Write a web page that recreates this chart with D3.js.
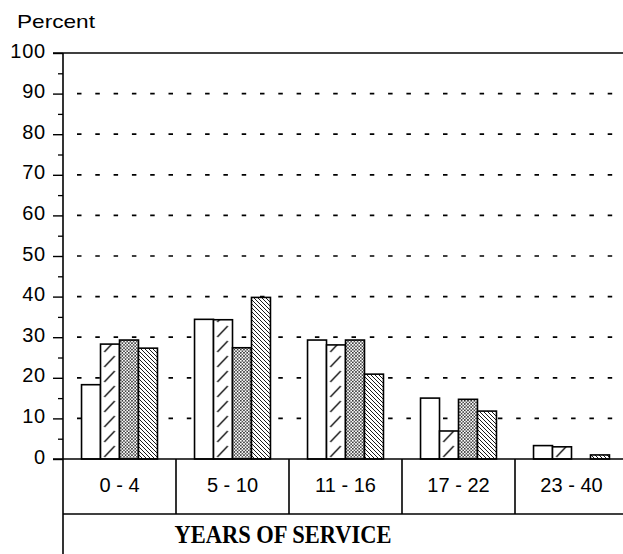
<!DOCTYPE html>
<html><head><meta charset="utf-8">
<script src="https://cdn.jsdelivr.net/npm/d3@7/dist/d3.min.js"></script>
<style>body{margin:0;background:#fff}svg{display:block}</style>
</head><body>
<svg id="c" width="623" height="554"></svg>
<script>
const categories = ["0 - 4", "5 - 10", "11 - 16", "17 - 22", "23 - 40"];
const seriesNames = ["s1", "s2", "s3", "s4"];
const s1 = [18.3, 34.4, 29.3, 15.0, 3.3];
const s2 = [28.3, 34.3, 28.1, 6.9, 3.0];
const s3 = [29.3, 27.4, 29.3, 14.7, 0];
const s4 = [27.3, 39.8, 20.9, 11.8, 1.0];
const seriesValues = [s1, s2, s3, s4];
const yMajorTicks = [0, 10, 20, 30, 40, 50, 60, 70, 80, 90, 100];
const yMinorTicks = [5, 15, 25, 35, 45, 55, 65, 75, 85, 95];
const yTitle = "Percent";
const xTitle = "YEARS OF SERVICE";

const svg = d3.select("#c");
const W = 623, H = 554;
const axisX = 63, y0 = 459, yTop = 53, tableBottom = 514;

const x = d3.scaleBand().domain(categories).range([axisX, axisX + 113 * 5]).paddingInner(0).paddingOuter(0);
const y = d3.scaleLinear().domain([0, 100]).range([y0, yTop]);
const bw = x.bandwidth();
const x1 = d3.scaleBand().domain(seriesNames).range([bw * 0.164, bw * 0.836]).padding(0);
const sw = x1.bandwidth();

// patterns
const defs = svg.append("defs");
// s2: sparse forward diagonal strokes (one pattern per category, aligned to the bar)
categories.forEach((c, i) => {
  const p2 = defs.append("pattern").attr("id", "p2_" + i).attr("patternUnits", "userSpaceOnUse")
    .attr("x", x(c) + x1("s2")).attr("y", y0).attr("width", sw).attr("height", 15);
  p2.append("rect").attr("width", sw).attr("height", 15).attr("fill", "#fff");
  p2.append("line").attr("x1", sw * 0.2).attr("y1", 13).attr("x2", sw * 0.75).attr("y2", 2)
    .attr("stroke", "#000").attr("stroke-width", 1.2);
});
// s3: dense dots
const p3 = defs.append("pattern").attr("id", "p3").attr("patternUnits", "userSpaceOnUse")
  .attr("width", 3.2).attr("height", 3.2);
p3.append("rect").attr("width", 3.2).attr("height", 3.2).attr("fill", "#fff");
p3.append("circle").attr("cx", 0.8).attr("cy", 0.8).attr("r", 0.85).attr("fill", "#222");
p3.append("circle").attr("cx", 2.4).attr("cy", 2.4).attr("r", 0.85).attr("fill", "#333");
// s4: dense backslash
const p4 = defs.append("pattern").attr("id", "p4").attr("patternUnits", "userSpaceOnUse")
  .attr("width", 4).attr("height", 4);
p4.append("rect").attr("width", 4).attr("height", 4).attr("fill", "#fff");
p4.append("path").attr("d", "M-1,-1 L5,5 M-1,3 L1,5 M3,-1 L5,1")
  .attr("stroke", "#000").attr("stroke-width", 0.9);
const fillFor = (j, i) => ["#fff", "url(#p2_" + i + ")", "url(#p3)", "url(#p4)"][j];

// gridlines
svg.append("g").selectAll("line").data(yMajorTicks.filter(d => d > 0 && d < 100)).join("line")
  .attr("x1", 77).attr("x2", W).attr("y1", d => y(d)).attr("y2", d => y(d))
  .attr("stroke", "#000").attr("stroke-width", 1.7).attr("stroke-dasharray", "4.5,13.8");

// top line
svg.append("line").attr("x1", axisX - 10).attr("x2", W).attr("y1", y(100)).attr("y2", y(100))
  .attr("stroke", "#000").attr("stroke-width", 1.4);

// bars
const gBars = svg.append("g");
categories.forEach((c, i) => {
  seriesNames.forEach((s, j) => {
    const v = seriesValues[j][i];
    if (v <= 0) return;
    gBars.append("rect")
      .attr("x", x(c) + x1(s)).attr("width", sw)
      .attr("y", y(v)).attr("height", y0 - y(v))
      .attr("fill", fillFor(j, i)).attr("stroke", "#000").attr("stroke-width", 1.6);
  });
});

// y axis
const yAxis = d3.axisLeft(y).tickValues(yMajorTicks).tickSize(10).tickPadding(7).tickFormat(d3.format("d"));
const gy = svg.append("g").attr("transform", `translate(${axisX},0)`).call(yAxis);
gy.select(".domain").remove();
gy.selectAll(".tick line").attr("stroke", "#000").attr("stroke-width", 1.4);
gy.selectAll(".tick text").attr("font-family", "'Liberation Sans', Arial, sans-serif")
  .attr("font-size", 20).attr("fill", "#000").attr("dy", "0.2em").attr("letter-spacing", "0.8px");
const yMinor = d3.axisLeft(y).tickValues(yMinorTicks).tickSize(5).tickFormat("");
const gym = svg.append("g").attr("transform", `translate(${axisX},0)`).call(yMinor);
gym.select(".domain").remove();
gym.selectAll(".tick line").attr("stroke", "#000").attr("stroke-width", 1.3);

svg.append("line").attr("x1", axisX).attr("x2", axisX).attr("y1", yTop).attr("y2", H)
  .attr("stroke", "#000").attr("stroke-width", 1.6);
svg.append("line").attr("x1", axisX - 10).attr("x2", W).attr("y1", y0).attr("y2", y0)
  .attr("stroke", "#000").attr("stroke-width", 1.6);

// table
svg.append("line").attr("x1", axisX).attr("x2", W).attr("y1", tableBottom).attr("y2", tableBottom)
  .attr("stroke", "#000").attr("stroke-width", 1.6);
svg.append("g").selectAll("line").data(categories.slice(1)).join("line")
  .attr("x1", d => x(d)).attr("x2", d => x(d)).attr("y1", y0).attr("y2", tableBottom)
  .attr("stroke", "#000").attr("stroke-width", 1.6);
svg.append("g").selectAll("text").data(categories).join("text")
  .attr("x", d => x(d) + bw / 2).attr("y", 492).attr("text-anchor", "middle")
  .attr("font-family", "'Liberation Sans', Arial, sans-serif").attr("font-size", 20)
  .text(d => d);

svg.append("text").attr("x", 283).attr("y", 543).attr("text-anchor", "middle")
  .attr("font-family", "'Liberation Serif', 'Times New Roman', serif").attr("font-weight", "bold")
  .attr("font-size", 26).attr("textLength", 217).attr("lengthAdjust", "spacingAndGlyphs")
  .text(xTitle);

svg.append("text").attr("x", 17).attr("y", 28)
  .attr("font-family", "'Liberation Sans', Arial, sans-serif").attr("font-size", 19)
  .attr("textLength", 78).attr("lengthAdjust", "spacingAndGlyphs")
  .text(yTitle);
</script>
</body></html>
